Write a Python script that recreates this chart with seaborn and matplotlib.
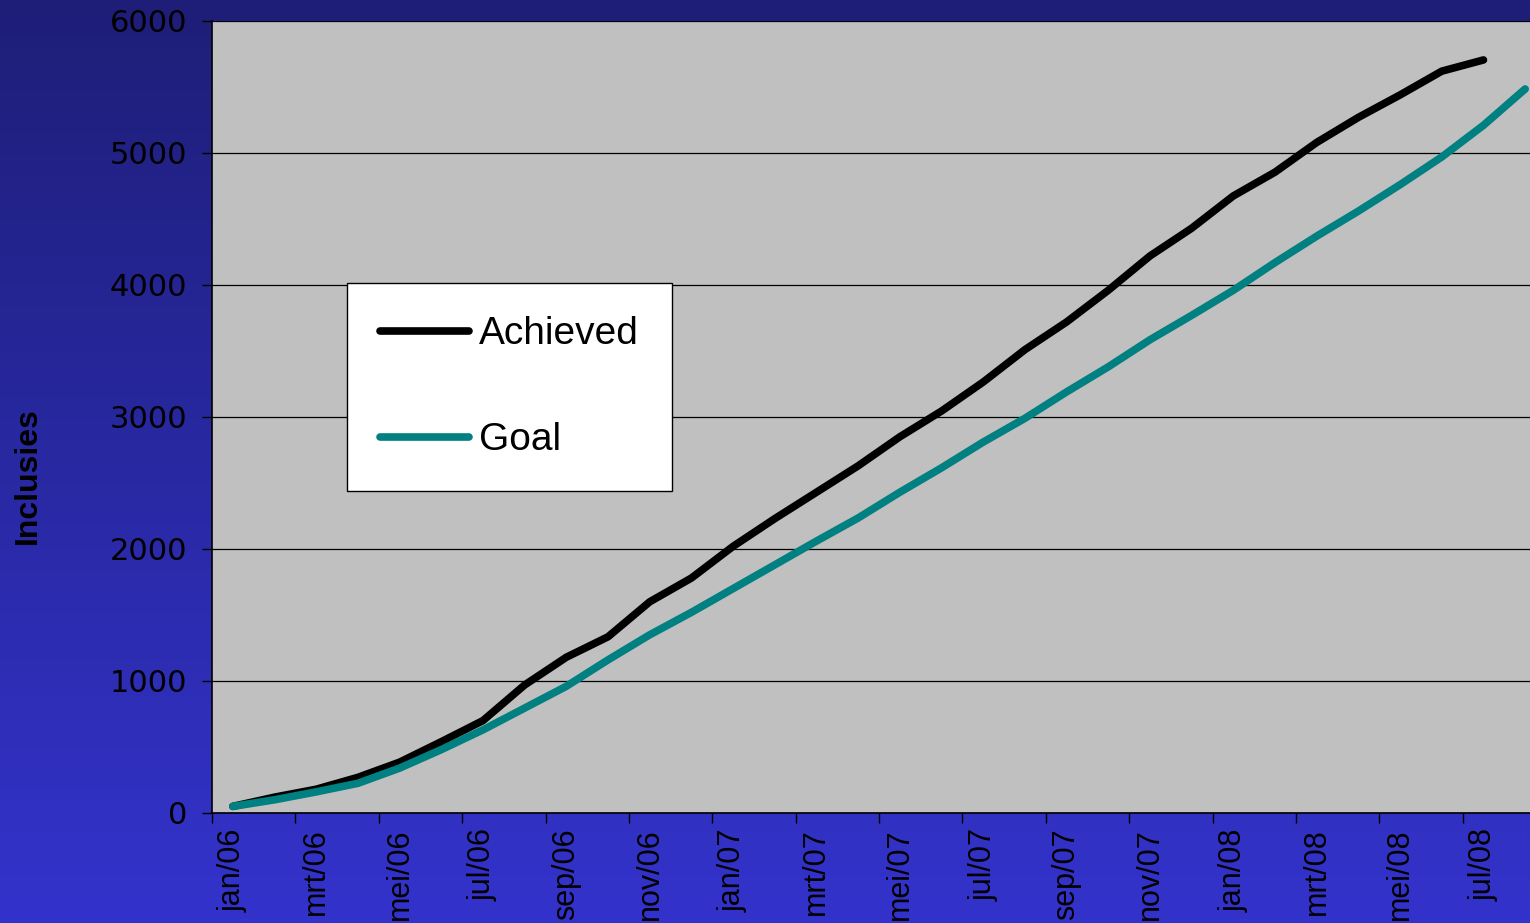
import numpy as np
import pandas as pd
import matplotlib
matplotlib.use("Agg")
import matplotlib.pyplot as plt
import seaborn as sns

# Monthly categories, jan/06 .. aug/08
month_names = ["jan", "feb", "mrt", "apr", "mei", "jun",
               "jul", "aug", "sep", "okt", "nov", "dec"]
years = ["06", "07", "08"]
months = [f"{m}/{y}" for y in years for m in month_names][:32]

# Cumulative inclusions achieved (through jul/08)
achieved = [50, 120, 180, 270, 385, 540, 700, 970, 1180, 1335,
            1600, 1780, 2020, 2230, 2430, 2630, 2850, 3045, 3265, 3510,
            3720, 3960, 4220, 4430, 4675, 4855, 5080, 5270, 5440, 5620,
            5705]

# Cumulative inclusion goal (through aug/08)
goal = [50, 100, 160, 225, 340, 480, 630, 795, 960, 1160,
        1350, 1520, 1700, 1880, 2060, 2235, 2430, 2615, 2810, 2990,
        3190, 3380, 3585, 3770, 3960, 4170, 4370, 4560, 4760, 4970,
        5210, 5485]

series_names = ["Achieved", "Goal"]
y_ticks = [0, 1000, 2000, 3000, 4000, 5000, 6000]

df = pd.concat([
    pd.DataFrame({"idx": range(len(achieved)), "value": achieved, "series": "Achieved"}),
    pd.DataFrame({"idx": range(len(goal)), "value": goal, "series": "Goal"}),
], ignore_index=True)

sns.set_theme(style="white")
plt.rcParams["font.family"] = ["Liberation Sans", "DejaVu Sans"]
plt.rcParams["text.color"] = "black"

W, H = 1530, 923
fig = plt.figure(figsize=(W / 100, H / 100), dpi=100)

# Vertical blue gradient behind everything
bg = fig.add_axes([0, 0, 1, 1], zorder=0)
top = np.array([0x1E, 0x1E, 0x78]) / 255
bot = np.array([0x33, 0x33, 0xCC]) / 255
t = np.linspace(0, 1, 256)[:, None]
grad = (top[None, :] * (1 - t) + bot[None, :] * t)[:, None, :]
bg.imshow(grad, aspect="auto", extent=[0, 1, 0, 1], origin="upper")
bg.set_axis_off()

left_px, right_px = 212, 1546
bottom_px, top_px = 813, 21
ax = fig.add_axes([left_px / W, (H - bottom_px) / H,
                   (right_px - left_px) / W, (bottom_px - top_px) / H], zorder=1)
ax.set_facecolor("#C0C0C0")

sns.lineplot(data=df, x="idx", y="value", hue="series", hue_order=series_names,
             palette={"Achieved": "black", "Goal": "#008080"},
             linewidth=5.5, ax=ax, legend=True)
for ln in ax.get_lines():
    ln.set_solid_capstyle("round")
    ln.set_solid_joinstyle("round")

ax.set_xlim(-0.5, 31.5)
ax.set_ylim(0, 6000)

# y axis
ax.set_yticks(y_ticks)
ax.set_yticklabels([str(v) for v in y_ticks], fontsize=22, family="DejaVu Sans", color="black")
ax.yaxis.grid(True, color="black", linewidth=0.9)
ax.xaxis.grid(False)
ax.set_axisbelow(True)
ax.tick_params(axis="y", which="major", direction="out", length=7, width=1,
               color="black", pad=11, left=True)

# x axis: labels centred on categories, tick marks on boundaries
label_pos = list(range(0, 32, 2))
ax.set_xticks(label_pos)
ax.set_xticklabels([months[i] for i in label_pos], rotation=90, fontsize=22,
                   color="black", va="top")
ax.set_xticks([p - 0.5 for p in label_pos], minor=True)
ax.tick_params(axis="x", which="major", length=0, pad=11, bottom=True)
ax.tick_params(axis="x", which="minor", direction="out", length=7, width=1,
               color="black", bottom=True)

for side in ["top", "right"]:
    ax.spines[side].set_visible(False)
for side in ["left", "bottom"]:
    ax.spines[side].set_visible(True)
    ax.spines[side].set_color("black")
    ax.spines[side].set_linewidth(1.2)

ax.set_xlabel("")
ax.set_ylabel("")
fig.text(28 / W, (H - 476) / H, "Inclusies", rotation=90, ha="center", va="center",
         fontsize=23, fontweight="bold", color="black")

leg = ax.legend(loc="upper left", bbox_to_anchor=(0.101, 0.669), fontsize=28,
                frameon=True, fancybox=False, edgecolor="black", facecolor="white",
                framealpha=1, borderpad=0.85, handlelength=2.3, handletextpad=0.25,
                labelspacing=1.8, borderaxespad=0)
leg.get_frame().set_linewidth(1)
for h in leg.get_lines():
    h.set_linewidth(5.5)
    h.set_solid_capstyle("round")
for txt in leg.get_texts():
    txt.set_color("black")

fig.savefig("out.png", dpi=100)
